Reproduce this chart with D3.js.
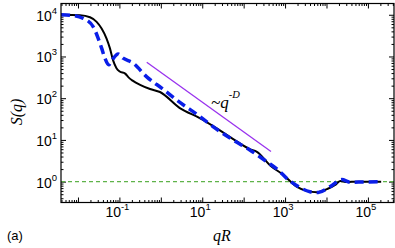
<!DOCTYPE html>
<html>
<head>
<meta charset="utf-8">
<script src="https://cdn.jsdelivr.net/npm/d3@7"></script>
<style>
  body { margin: 0; background: #fff; }
</style>
</head>
<body>
<script>
// Curva negra (línea continua): qR y S(q).
var negroQ = [0.00389, 0.0112, 0.0195, 0.0282, 0.0372, 0.049, 0.0589, 0.0708, 0.0851, 0.102,
              0.138, 0.166, 0.209, 0.316, 0.55, 0.955, 2.88, 8.9, 22.4, 56, 141, 209, 437,
              912, 1905, 3311, 5890, 10230, 16200, 21400, 30900, 53700, 209000];
var negroS = [10000, 9770, 8710, 6760, 4680, 2690, 1585, 794, 525, 437,
              389, 316, 263, 209, 166, 141, 58, 33, 19, 10.5, 6.0, 5.2, 2.45,
              1.45, 0.76, 0.60, 0.56, 0.66, 0.83, 1.04, 0.98, 1.0, 1.0];

// Curva azul (discontinua).
var azulQ = [0.00389, 0.00646, 0.0135, 0.0234, 0.0309, 0.0372, 0.0447, 0.055, 0.0661, 0.0933,
             0.123, 0.214, 0.457, 1.12, 2.4, 8.9, 18.2, 55, 141, 363, 676, 1096, 2090,
             3980, 6310, 12300, 23400, 37200, 77600, 209000];
var azulS = [10000, 9770, 8130, 5130, 2690, 1585, 912, 631, 813, 1148,
             912, 692, 324, 166, 91, 36, 20.9, 10, 5.75, 3.0, 1.91, 1.2, 0.76,
             0.575, 0.55, 0.76, 1.12, 0.97, 0.98, 1.0];

// Recta guía ~q^-D y nivel S = 1.
var guiaQ = [0.457, 457];
var guiaS = [724, 5.25];
var nivelS = 1;

// Etiquetas de los ejes (exponentes de 10).
var xEtiquetas = [-1, 1, 3, 5];
var yEtiquetas = [0, 1, 2, 3, 4];

var WIDTH  = 395;
var HEIGHT = 248;
var izq = 61, der = 394, arriba = 3.5, abajo = 202.5;

var svg = d3.select('body')
            .append('svg')
            .attr('width', WIDTH)
            .attr('height', HEIGHT)
            .style('font-family', '"Liberation Sans", Arial, sans-serif');

var x = d3.scaleLog().domain([Math.pow(10, -2.41), Math.pow(10, 5.63)]).range([izq, der]);
var y = d3.scaleLog().domain([Math.pow(10, -0.5), Math.pow(10, 4.27)]).range([abajo, arriba]);

// Marcas mayores y menores dentro del dominio.
function marcas(escala, menor) {
  var d = escala.domain(), lista = [];
  for (var e = -4; e <= 7; e++) {
    for (var m = 1; m <= 9; m++) {
      var v = m * Math.pow(10, e);
      if (v < d[0] || v > d[1]) continue;
      if ((m === 1) !== menor) lista.push(v);
    }
  }
  return lista;
}

svg.append('defs').append('clipPath').attr('id', 'recorte')
   .append('rect')
   .attr('x', izq).attr('y', arriba)
   .attr('width', der - izq).attr('height', abajo - arriba);

// Ejes: cuatro lados, marcas hacia dentro.
function eje(generador, escala, trans, menor) {
  var g = svg.append('g')
             .attr('transform', trans)
             .call(generador(escala)
                     .tickValues(marcas(escala, menor))
                     .tickSizeInner(menor ? -2.5 : -5)
                     .tickSizeOuter(0)
                     .tickFormat(''));
  g.select('.domain').remove();
  g.selectAll('line').attr('stroke', '#000').attr('stroke-width', 1);
}
[false, true].forEach(function(menor) {
  eje(d3.axisBottom, x, 'translate(0,' + abajo + ')', menor);
  eje(d3.axisTop, x, 'translate(0,' + arriba + ')', menor);
  eje(d3.axisLeft, y, 'translate(' + izq + ',0)', menor);
  eje(d3.axisRight, y, 'translate(' + der + ',0)', menor);
});

// Línea horizontal discontinua en S = 1.
svg.append('line')
   .attr('x1', izq).attr('x2', der)
   .attr('y1', y(nivelS)).attr('y2', y(nivelS))
   .attr('stroke', '#5fb34a')
   .attr('stroke-width', 1.3)
   .attr('stroke-dasharray', '4,3');

var linea = d3.line()
              .x(function(d) { return x(d[0]); })
              .y(function(d) { return y(d[1]); })
              .curve(d3.curveMonotoneX);

var curvas = svg.append('g').attr('clip-path', 'url(#recorte)');

curvas.append('path')
      .datum(d3.zip(negroQ, negroS))
      .attr('d', linea)
      .attr('fill', 'none')
      .attr('stroke', '#000')
      .attr('stroke-width', 2);

curvas.append('path')
      .datum(d3.zip(azulQ, azulS))
      .attr('d', linea)
      .attr('fill', 'none')
      .attr('stroke', '#0a1ee8')
      .attr('stroke-width', 3.5)
      .attr('stroke-dasharray', '9,5');

svg.append('line')
   .attr('x1', x(guiaQ[0])).attr('y1', y(guiaS[0]))
   .attr('x2', x(guiaQ[1])).attr('y2', y(guiaS[1]))
   .attr('stroke', '#9932ee')
   .attr('stroke-width', 1.3);

// Marco del gráfico.
svg.append('rect')
   .attr('x', izq).attr('y', arriba)
   .attr('width', der - izq).attr('height', abajo - arriba)
   .attr('fill', 'none')
   .attr('stroke', '#000')
   .attr('stroke-width', 1.2);

// Etiquetas de las marcas: 10 con exponente.
function potencia(sel, e) {
  sel.append('tspan').text('10');
  sel.append('tspan').attr('dy', -7).attr('font-size', 9.5).text(e);
}

xEtiquetas.forEach(function(e) {
  svg.append('text')
     .attr('x', x(Math.pow(10, e)) - 2)
     .attr('y', 217)
     .attr('text-anchor', 'middle')
     .attr('font-size', 14)
     .call(potencia, e);
});

yEtiquetas.forEach(function(e) {
  svg.append('text')
     .attr('x', 57)
     .attr('y', y(Math.pow(10, e)) + 6)
     .attr('text-anchor', 'end')
     .attr('font-size', 14)
     .call(potencia, e);
});

// Títulos de los ejes y anotaciones.
var serif = '"Liberation Serif", "Times New Roman", serif';

svg.append('text')
   .attr('x', 222).attr('y', 240.5)
   .attr('text-anchor', 'middle')
   .attr('font-family', serif)
   .attr('font-style', 'italic')
   .attr('font-size', 16)
   .text('qR');

svg.append('text')
   .attr('transform', 'translate(21.5,112) rotate(-90)')
   .attr('text-anchor', 'middle')
   .attr('font-family', serif)
   .attr('font-style', 'italic')
   .attr('font-size', 16)
   .text('S(q)');

var nota = svg.append('text')
              .attr('x', 211).attr('y', 108)
              .attr('font-family', serif)
              .attr('font-style', 'italic')
              .attr('font-size', 17);
nota.append('tspan').text('~q');
nota.append('tspan').attr('dy', -10).attr('font-size', 10.5).text('-D');

svg.append('text')
   .attr('x', 7).attr('y', 240)
   .attr('font-size', 13)
   .text('(a)');
</script>
</body>
</html>
